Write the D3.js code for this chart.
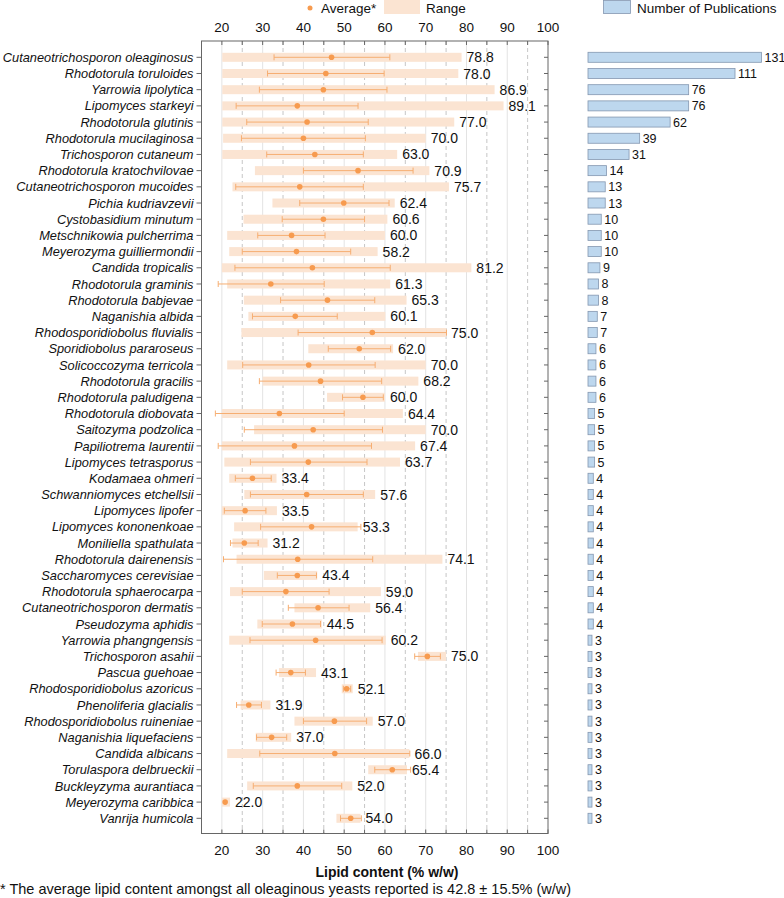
<!DOCTYPE html>
<html>
<head>
<meta charset="utf-8">
<script src="https://cdn.jsdelivr.net/npm/d3@7"></script>
<style>
  body { margin: 0; background: #fff; }
  svg { display: block; font-family: "Liberation Sans", Arial, sans-serif; }
</style>
</head>
<body>
<svg id="chart" width="784" height="898"></svg>
<script>
// ─── Data ─────────────────────────────────────────────────────────────────────

const species = [
  "Cutaneotrichosporon oleaginosus", "Rhodotorula toruloides", "Yarrowia lipolytica",
  "Lipomyces starkeyi", "Rhodotorula glutinis", "Rhodotorula mucilaginosa",
  "Trichosporon cutaneum", "Rhodotorula kratochvilovae", "Cutaneotrichosporon mucoides",
  "Pichia kudriavzevii", "Cystobasidium minutum", "Metschnikowia pulcherrima",
  "Meyerozyma guilliermondii", "Candida tropicalis", "Rhodotorula graminis",
  "Rhodotorula babjevae", "Naganishia albida", "Rhodosporidiobolus fluvialis",
  "Sporidiobolus pararoseus", "Solicoccozyma terricola", "Rhodotorula gracilis",
  "Rhodotorula paludigena", "Rhodotorula diobovata", "Saitozyma podzolica",
  "Papiliotrema laurentii", "Lipomyces tetrasporus", "Kodamaea ohmeri",
  "Schwanniomyces etchellsii", "Lipomyces lipofer", "Lipomyces kononenkoae",
  "Moniliella spathulata", "Rhodotorula dairenensis", "Saccharomyces cerevisiae",
  "Rhodotorula sphaerocarpa", "Cutaneotrichosporon dermatis", "Pseudozyma aphidis",
  "Yarrowia phangngensis", "Trichosporon asahii", "Pascua guehoae",
  "Rhodosporidiobolus azoricus", "Phenoliferia glacialis", "Rhodosporidiobolus ruineniae",
  "Naganishia liquefaciens", "Candida albicans", "Torulaspora delbrueckii",
  "Buckleyzyma aurantiaca", "Meyerozyma caribbica", "Vanrija humicola"
];

// range of reported lipid content (% w/w)
const rangeMin = [
  20.1, 20.1, 20.1, 20.1, 20.1, 20.3, 20.1, 28.1, 22.6, 32.4, 25.3, 21.3,
  21.8, 20.0, 21.3, 25.4, 26.5, 24.8, 41.2, 21.3, 30.0, 45.8, 20.0, 27.9,
  20.0, 20.6, 21.8, 25.5, 20.0, 23.0, 22.6, 23.6, 30.3, 22.0, 37.8, 28.7,
  21.8, 68.1, 34.0, 49.4, 24.6, 37.8, 28.3, 21.3, 55.9, 26.2, 20.0, 48.1
];
const rangeMax = [
  78.8, 78.0, 86.9, 89.1, 77.0, 70.0, 63.0, 70.9, 75.7, 62.4, 60.6, 60.0,
  58.2, 81.2, 61.3, 65.3, 60.1, 75.0, 62.0, 70.0, 68.2, 60.0, 64.4, 70.0,
  67.4, 63.7, 33.4, 57.6, 33.5, 53.3, 31.2, 74.1, 43.4, 59.0, 56.4, 44.5,
  60.2, 75.0, 43.1, 52.1, 31.9, 57.0, 37.0, 66.0, 65.4, 52.0, 22.0, 54.0
];
// average and spread (error bar ends)
const avgVal = [
  46.9, 45.5, 44.9, 38.5, 40.9, 40.0, 42.8, 53.4, 39.1, 49.9, 44.9, 37.1,
  38.3, 42.2, 32.0, 45.9, 38.0, 56.9, 53.7, 41.3, 44.2, 54.6, 34.1, 42.4,
  37.8, 41.2, 27.5, 40.8, 25.7, 42.0, 25.5, 38.6, 38.5, 35.7, 43.6, 37.3,
  43.0, 70.4, 36.9, 50.6, 26.6, 47.6, 32.2, 47.7, 61.8, 38.5, 20.8, 51.6
];
const errLow = [
  32.8, 31.2, 29.2, 23.5, 26.1, 24.8, 31.0, 40.0, 23.4, 39.1, 34.8, 28.8,
  25.0, 23.2, 19.1, 34.4, 27.5, 38.7, 46.1, 25.1, 29.2, 49.6, 18.4, 25.5,
  19.1, 27.0, 23.3, 27.0, 20.6, 29.5, 22.1, 20.4, 33.6, 25.0, 36.3, 29.9,
  26.9, 67.3, 33.3, 49.8, 23.6, 40.0, 28.5, 29.3, 57.5, 27.7, 20.8, 49.1
];
const errHigh = [
  61.2, 59.8, 60.5, 53.4, 55.9, 55.2, 54.7, 66.9, 54.7, 61.0, 55.0, 45.3,
  51.6, 61.3, 45.1, 57.5, 48.3, 75.1, 61.4, 57.6, 59.2, 59.6, 50.0, 59.4,
  56.7, 55.6, 32.1, 54.7, 30.8, 54.1, 28.9, 57.0, 43.2, 46.3, 51.2, 44.2,
  59.3, 73.6, 40.5, 51.6, 29.7, 55.5, 35.9, 66.1, 66.3, 49.4, 20.8, 54.2
];
const publications = [
  131, 111, 76, 76, 62, 39, 31, 14, 13, 13, 10, 10,
  10, 9, 8, 8, 7, 7, 6, 6, 6, 6, 5, 5,
  5, 5, 4, 4, 4, 4, 4, 4, 4, 4, 4, 4,
  3, 3, 3, 3, 3, 3, 3, 3, 3, 3, 3, 3
];

const majorTicks = [20, 30, 40, 50, 60, 70, 80, 90, 100];
const minorTicks = [25, 35, 45, 55, 65, 75, 85, 95];

const rows = species.map((name, i) => ({
  name,
  min: rangeMin[i], max: rangeMax[i],
  avg: avgVal[i], lo: errLow[i], hi: errHigh[i],
  pubs: publications[i]
}));

// ─── Layout ───────────────────────────────────────────────────────────────────

const colors = {
  range: "#fbe4d2",
  dot: "#f79b4f",
  err: "#f6ae72",
  bar: "#bdd7ee",
  barStroke: "#8497b0",
  frame: "#666",
  grid: "#e3e3e3",
  gridDash: "#b8b8b8",
  text: "#111"
};

const plot = { left: 201.5, right: 548, top: 41, bottom: 833.5 };

const svg = d3.select("#chart");

const x = d3.scaleLinear().domain([15, 100]).range([plot.left, plot.right]);
const y = d3.scalePoint().domain(species).range([57.3, 818.3]);
const xPub = d3.scaleLinear().domain([0, 131]).range([588, 761.5]);

// ─── Grid ─────────────────────────────────────────────────────────────────────

svg.append("g")
  .selectAll("line")
  .data(majorTicks.filter(d => d < 100))
  .join("line")
  .attr("x1", d => x(d)).attr("x2", d => x(d))
  .attr("y1", plot.top).attr("y2", plot.bottom)
  .attr("stroke", colors.grid)
  .attr("stroke-width", 1);

svg.append("g")
  .selectAll("line")
  .data(minorTicks)
  .join("line")
  .attr("x1", d => x(d)).attr("x2", d => x(d))
  .attr("y1", plot.top).attr("y2", plot.bottom)
  .attr("stroke", colors.gridDash)
  .attr("stroke-width", 0.8)
  .attr("stroke-dasharray", "4,3");

// ─── Range bars, error bars, averages ─────────────────────────────────────────

const rangeH = 9;

svg.append("g")
  .selectAll("rect")
  .data(rows)
  .join("rect")
  .attr("x", d => x(d.min))
  .attr("y", d => y(d.name) - rangeH / 2)
  .attr("width", d => x(d.max) - x(d.min))
  .attr("height", rangeH)
  .attr("fill", colors.range);

const err = svg.append("g")
  .attr("stroke", colors.err)
  .attr("stroke-width", 1)
  .selectAll("g")
  .data(rows.filter(d => d.hi > d.lo))
  .join("g");

err.append("line")
  .attr("x1", d => x(d.lo)).attr("x2", d => x(d.hi))
  .attr("y1", d => y(d.name)).attr("y2", d => y(d.name));
err.append("line")
  .attr("x1", d => x(d.lo)).attr("x2", d => x(d.lo))
  .attr("y1", d => y(d.name) - 3).attr("y2", d => y(d.name) + 3);
err.append("line")
  .attr("x1", d => x(d.hi)).attr("x2", d => x(d.hi))
  .attr("y1", d => y(d.name) - 3).attr("y2", d => y(d.name) + 3);

svg.append("g")
  .selectAll("circle")
  .data(rows)
  .join("circle")
  .attr("cx", d => x(d.avg))
  .attr("cy", d => y(d.name))
  .attr("r", 2.8)
  .attr("fill", colors.dot);

// max value labels
svg.append("g")
  .selectAll("text")
  .data(rows)
  .join("text")
  .attr("x", d => x(d.max) + 5)
  .attr("y", d => y(d.name))
  .attr("dy", "0.36em")
  .attr("font-size", "14px")
  .attr("fill", colors.text)
  .text(d => d.max.toFixed(1));

// ─── Frame & axes ─────────────────────────────────────────────────────────────

svg.append("rect")
  .attr("x", plot.left).attr("y", plot.top)
  .attr("width", plot.right - plot.left)
  .attr("height", plot.bottom - plot.top)
  .attr("fill", "none")
  .attr("stroke", colors.frame)
  .attr("stroke-width", 1);

const allTicks = majorTicks.concat(minorTicks);

// inward ticks on top and bottom
svg.append("g")
  .attr("stroke", colors.frame)
  .selectAll("line")
  .data(allTicks)
  .join("line")
  .attr("x1", d => x(d)).attr("x2", d => x(d))
  .attr("y1", plot.top).attr("y2", plot.top + 4);

svg.append("g")
  .attr("stroke", colors.frame)
  .selectAll("line")
  .data(allTicks)
  .join("line")
  .attr("x1", d => x(d)).attr("x2", d => x(d))
  .attr("y1", plot.bottom).attr("y2", plot.bottom - 4);

// top and bottom tick labels
[27, 850].forEach(ty => {
  svg.append("g")
    .selectAll("text")
    .data(majorTicks)
    .join("text")
    .attr("x", d => x(d))
    .attr("y", ty)
    .attr("dy", "0.36em")
    .attr("text-anchor", "middle")
    .attr("font-size", "13.5px")
    .attr("fill", colors.text)
    .text(d => d);
});

// category ticks: outward on left, inward on right
svg.append("g")
  .attr("stroke", colors.frame)
  .selectAll("line")
  .data(species)
  .join("line")
  .attr("x1", plot.left - 5).attr("x2", plot.left)
  .attr("y1", d => y(d)).attr("y2", d => y(d));

svg.append("g")
  .attr("stroke", colors.frame)
  .selectAll("line")
  .data(species)
  .join("line")
  .attr("x1", plot.right - 4).attr("x2", plot.right)
  .attr("y1", d => y(d)).attr("y2", d => y(d));

svg.append("g")
  .selectAll("text")
  .data(species)
  .join("text")
  .attr("x", plot.left - 8)
  .attr("y", d => y(d))
  .attr("dy", "0.36em")
  .attr("text-anchor", "end")
  .attr("font-size", "12.8px")
  .attr("font-style", "italic")
  .attr("fill", colors.text)
  .text(d => d);

svg.append("text")
  .attr("x", 387)
  .attr("y", 872)
  .attr("dy", "0.36em")
  .attr("text-anchor", "middle")
  .attr("font-size", "14px")
  .attr("font-weight", "700")
  .attr("fill", colors.text)
  .text("Lipid content (% w/w)");

// ─── Publications bars ────────────────────────────────────────────────────────

const barH = 10;

svg.append("g")
  .selectAll("rect")
  .data(rows)
  .join("rect")
  .attr("x", xPub(0))
  .attr("y", d => y(d.name) - barH / 2)
  .attr("width", d => xPub(d.pubs) - xPub(0))
  .attr("height", barH)
  .attr("fill", colors.bar)
  .attr("stroke", colors.barStroke)
  .attr("stroke-width", 0.8);

svg.append("g")
  .selectAll("text")
  .data(rows)
  .join("text")
  .attr("x", d => xPub(d.pubs) + 3)
  .attr("y", d => y(d.name))
  .attr("dy", "0.36em")
  .attr("font-size", "12.5px")
  .attr("fill", colors.text)
  .text(d => d.pubs);

// ─── Legend ───────────────────────────────────────────────────────────────────

const legend = svg.append("g").attr("font-size", "13.5px").attr("fill", colors.text);

legend.append("circle").attr("cx", 310).attr("cy", 8).attr("r", 2.5).attr("fill", colors.dot);
legend.append("text").attr("x", 321).attr("y", 8).attr("dy", "0.36em").text("Average*");
legend.append("rect").attr("x", 384).attr("y", 0).attr("width", 36).attr("height", 14).attr("fill", colors.range);
legend.append("text").attr("x", 426).attr("y", 8).attr("dy", "0.36em").text("Range");
legend.append("rect").attr("x", 603.5).attr("y", 0.5).attr("width", 27).attr("height", 13)
  .attr("fill", colors.bar).attr("stroke", colors.barStroke).attr("stroke-width", 0.8);
legend.append("text").attr("x", 637).attr("y", 8).attr("dy", "0.36em").text("Number of Publications");

// ─── Footnote ─────────────────────────────────────────────────────────────────

svg.append("text")
  .attr("x", 0)
  .attr("y", 889)
  .attr("dy", "0.36em")
  .attr("font-size", "14.5px")
  .attr("fill", colors.text)
  .text("* The average lipid content amongst all oleaginous yeasts reported is 42.8 \u00b1 15.5% (w/w)");
</script>
</body>
</html>
